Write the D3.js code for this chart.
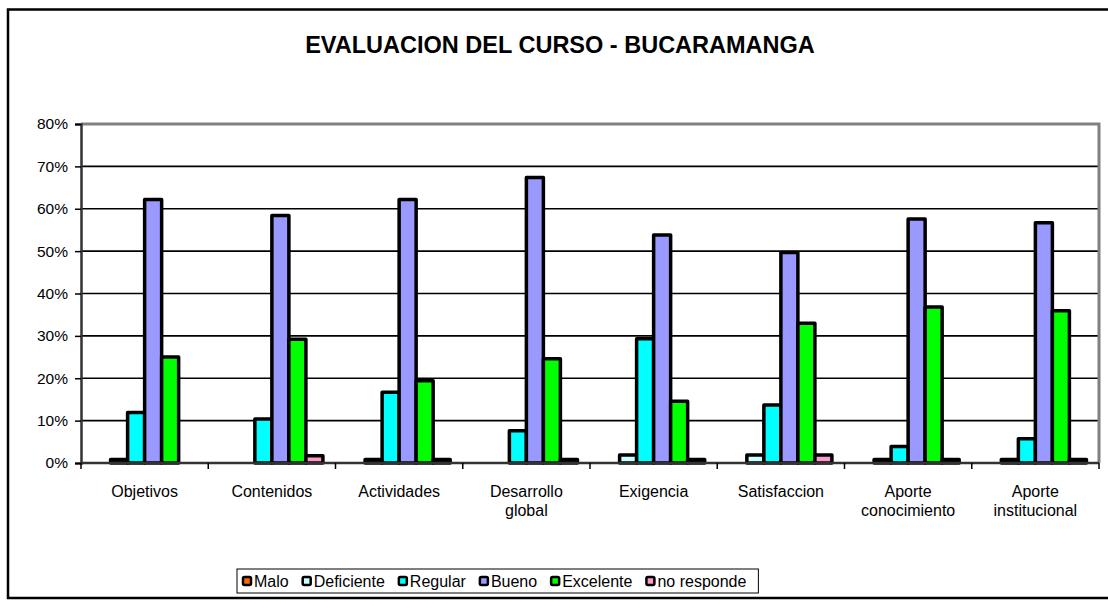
<!DOCTYPE html>
<html>
<head>
<meta charset="utf-8">
<script src="https://cdnjs.cloudflare.com/ajax/libs/d3/7.8.5/d3.min.js"></script>
<style>
  html, body { margin: 0; padding: 0; background: #fff; }
  svg { display: block; font-family: "Liberation Sans", Arial, sans-serif; }
</style>
</head>
<body>
<div id="chart"></div>
<script>
// chart data (percent)
const categories = [
  ["Objetivos"], ["Contenidos"], ["Actividades"], ["Desarrollo", "global"],
  ["Exigencia"], ["Satisfaccion"], ["Aporte", "conocimiento"], ["Aporte", "institucional"]
];
const seriesNames  = ["Malo", "Deficiente", "Regular", "Bueno", "Excelente", "no responde"];
const seriesColors = ["#ff6600", "#ccffff", "#00ffff", "#9999ff", "#00ff00", "#ff99cc"];

const malo       = [0, 0, 0, 0, 0, 0, 0, 0];
const deficiente = [0.8, 0, 0.8, 0, 1.9, 1.9, 0.8, 0.8];
const regular    = [11.9, 10.4, 16.7, 7.6, 29.3, 13.7, 3.9, 5.7];
const bueno      = [62.2, 58.4, 62.2, 67.4, 53.8, 49.7, 57.6, 56.7];
const excelente  = [25.0, 29.2, 19.4, 24.6, 14.6, 33.0, 36.8, 35.9];
const noResponde = [0, 1.7, 0.8, 0.8, 0.8, 1.9, 0.8, 0.8];

const yTicks = [0, 10, 20, 30, 40, 50, 60, 70, 80];
const title = "EVALUACION DEL CURSO - BUCARAMANGA";

const seriesValues = [malo, deficiente, regular, bueno, excelente, noResponde];

const W = 1108, H = 608;
const plot = { left: 81, right: 1099, top: 124, bottom: 463 };

const svg = d3.select("#chart").append("svg")
  .attr("width", W).attr("height", H);

svg.append("rect").attr("width", W).attr("height", H).attr("fill", "#fff");

// outer chart frame
svg.append("rect")
  .attr("x", 8).attr("y", 9.5).attr("width", W + 20).attr("height", 588.5)
  .attr("fill", "none").attr("stroke", "#000").attr("stroke-width", 2.5);

svg.append("text")
  .attr("x", 560).attr("y", 53)
  .attr("text-anchor", "middle")
  .attr("font-size", 23.5).attr("font-weight", "bold")
  .text(title);

const x0 = d3.scaleBand()
  .domain(categories.map((c, i) => i))
  .range([plot.left, plot.right])
  .paddingInner(0).paddingOuter(0);

const x1 = d3.scaleBand()
  .domain(seriesNames)
  .range([0, x0.bandwidth()])
  .paddingInner(0).paddingOuter(0.74);

const y = d3.scaleLinear().domain([0, 80]).range([plot.bottom, plot.top]);

// gridlines
svg.append("g").selectAll("line")
  .data(yTicks.filter(t => t > 0 && t < 80)).join("line")
  .attr("x1", plot.left).attr("x2", plot.right)
  .attr("y1", d => y(d)).attr("y2", d => y(d))
  .attr("stroke", "#000").attr("stroke-width", 1.6);

// plot area border (top/right grey)
svg.append("path")
  .attr("d", `M${plot.left},${y(80)}H${plot.right}V${plot.bottom}`)
  .attr("fill", "none").attr("stroke", "#808080").attr("stroke-width", 3);

// bars
const groups = svg.append("g").selectAll("g")
  .data(categories.map((c, i) => i)).join("g")
  .attr("transform", i => `translate(${x0(i)},0)`);

groups.selectAll("rect")
  .data(i => seriesNames.map((s, k) => ({ s, k, v: seriesValues[k][i] })).filter(d => d.v > 0))
  .join("rect")
  .attr("x", d => x1(d.s))
  .attr("y", d => y(d.v))
  .attr("width", x1.bandwidth())
  .attr("height", d => y(0) - y(d.v))
  .attr("fill", d => seriesColors[d.k])
  .attr("stroke", "#000").attr("stroke-width", 3.5)
  .attr("stroke-linejoin", "round");

// y axis
const yAxis = svg.append("g")
  .attr("transform", `translate(${plot.left},0)`)
  .call(d3.axisLeft(y).tickValues(yTicks).tickFormat(d => d + "%").tickSize(6).tickPadding(7));
yAxis.select(".domain").attr("stroke", "#333").attr("stroke-width", 2.5);
yAxis.selectAll(".tick line").attr("stroke", "#000").attr("stroke-width", 1.5);
yAxis.selectAll(".tick text").attr("font-size", 15.5).attr("fill", "#000")
  .attr("font-family", "Liberation Sans, Arial, sans-serif");

// x axis: baseline and ticks at category boundaries
const xAxis = svg.append("g");
xAxis.append("line")
  .attr("x1", plot.left).attr("x2", plot.right)
  .attr("y1", plot.bottom).attr("y2", plot.bottom)
  .attr("stroke", "#333").attr("stroke-width", 2.5);
xAxis.selectAll(".xt")
  .data(d3.range(categories.length + 1)).join("line")
  .attr("class", "xt")
  .attr("x1", i => plot.left + i * x0.step()).attr("x2", i => plot.left + i * x0.step())
  .attr("y1", plot.bottom).attr("y2", plot.bottom + 6)
  .attr("stroke", "#000").attr("stroke-width", 1.5);

const labels = xAxis.selectAll(".cat")
  .data(categories).join("text")
  .attr("class", "cat")
  .attr("x", (c, i) => x0(i) + x0.bandwidth() / 2)
  .attr("y", 497)
  .attr("text-anchor", "middle")
  .attr("font-size", 16);
labels.selectAll("tspan")
  .data(c => c).join("tspan")
  .attr("x", function () { return this.parentNode.getAttribute("x"); })
  .attr("dy", (d, j) => j === 0 ? 0 : 19)
  .text(d => d);

// legend
const legend = svg.append("g");
const boxRect = legend.append("rect")
  .attr("y", 569).attr("height", 24)
  .attr("fill", "#fff").attr("stroke", "#000").attr("stroke-width", 1);

const startX = 243;
let lx = startX;
seriesNames.forEach((s, k) => {
  legend.append("rect")
    .attr("x", lx).attr("y", 577).attr("width", 8).attr("height", 8)
    .attr("rx", 1.5)
    .attr("fill", seriesColors[k]).attr("stroke", "#000").attr("stroke-width", 2.5);
  const t = legend.append("text")
    .attr("x", lx + 11).attr("y", 587)
    .attr("font-size", 16)
    .text(s);
  lx += 11 + t.node().getComputedTextLength() + (k < seriesNames.length - 1 ? 14 : 0);
});
boxRect.attr("x", startX - 6).attr("width", lx - startX + 18);
</script>
</body>
</html>
